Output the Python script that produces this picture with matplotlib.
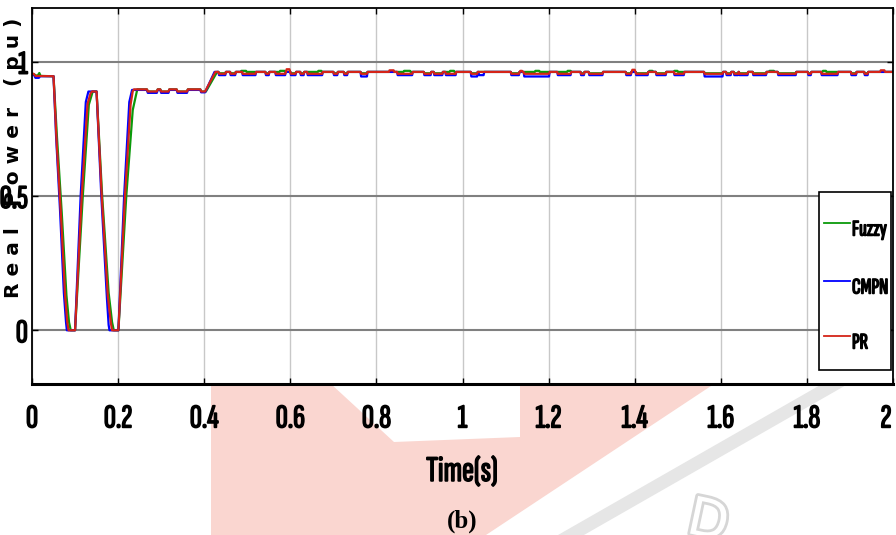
import numpy as np
import matplotlib
matplotlib.use("Agg")
import matplotlib.pyplot as plt
from matplotlib.patches import Polygon, Rectangle
from matplotlib.lines import Line2D
import matplotlib.patheffects as pe

# start-up transient, (time s, real power pu)
fuzzy_start = [(0, 0.956), (0.006, 0.952), (0.010, 0.948), (0.014, 0.950), (0.017, 0.958),
               (0.020, 0.947), (0.050, 0.946), (0.058, 0.72), (0.069, 0.44), (0.080, 0.13),
               (0.086, 0.03), (0.090, 0.0), (0.100, 0.0), (0.118, 0.5), (0.132, 0.84),
               (0.141, 0.889), (0.150, 0.889), (0.163, 0.5), (0.178, 0.14), (0.186, 0.03),
               (0.190, 0.0), (0.2007, 0.0), (0.219, 0.5), (0.234, 0.82), (0.2445, 0.897),
               (0.267, 0.897), (0.269, 0.889), (0.290, 0.889), (0.292, 0.897), (0.298, 0.897),
               (0.300, 0.889), (0.317, 0.889), (0.319, 0.897), (0.336, 0.897), (0.338, 0.889),
               (0.360, 0.889), (0.362, 0.897), (0.391, 0.897), (0.393, 0.889), (0.404, 0.889),
               (0.430, 0.962)]
cmpn_start = [(0, 0.953), (0.005, 0.950), (0.008, 0.940), (0.016, 0.940), (0.019, 0.946),
              (0.050, 0.946), (0.056, 0.72), (0.065, 0.45), (0.074, 0.14), (0.079, 0.03),
              (0.081, 0.0), (0.100, 0.0), (0.113, 0.5), (0.125, 0.85), (0.131, 0.889),
              (0.150, 0.889), (0.161, 0.5), (0.174, 0.12), (0.178, 0.02), (0.180, 0.0),
              (0.2007, 0.0), (0.214, 0.5), (0.226, 0.85), (0.2325, 0.895),
              (0.267, 0.895), (0.269, 0.884), (0.290, 0.884), (0.292, 0.895), (0.298, 0.895),
              (0.300, 0.884), (0.317, 0.884), (0.319, 0.895), (0.336, 0.895), (0.338, 0.884),
              (0.360, 0.884), (0.362, 0.895), (0.391, 0.895), (0.393, 0.886), (0.402, 0.886),
              (0.424, 0.962)]
pr_start = [(0, 0.955), (0.004, 0.955), (0.008, 0.947), (0.050, 0.946), (0.057, 0.707),
            (0.067, 0.436), (0.077, 0.127), (0.082, 0.03), (0.085, 0.0), (0.100, 0.0),
            (0.1155, 0.5), (0.129, 0.843), (0.136, 0.882), (0.139, 0.889), (0.150, 0.889),
            (0.162, 0.5), (0.176, 0.13), (0.183, 0.03), (0.186, 0.0), (0.2007, 0.0),
            (0.216, 0.5), (0.229, 0.84), (0.234, 0.89), (0.237, 0.897),
            (0.267, 0.897), (0.269, 0.889), (0.290, 0.889), (0.292, 0.897), (0.298, 0.897),
            (0.300, 0.889), (0.317, 0.889), (0.319, 0.897), (0.336, 0.897), (0.338, 0.889),
            (0.360, 0.889), (0.362, 0.897), (0.391, 0.897), (0.393, 0.889), (0.402, 0.889),
            (0.426, 0.962)]

# steady state: level and the short dips shared by all controllers
steady_level = 0.962
dips = [(0.433, 0.449), (0.460, 0.472), (0.488, 0.519), (0.542, 0.550), (0.565, 0.588),
        (0.600, 0.612), (0.623, 0.631), (0.639, 0.674), (0.700, 0.709), (0.724, 0.732),
        (0.763, 0.778), (0.848, 0.883), (0.910, 0.926), (0.933, 0.953), (0.960, 0.984),
        (1.019, 1.034), (1.112, 1.131), (1.142, 1.201), (1.220, 1.251), (1.274, 1.282),
        (1.293, 1.325), (1.379, 1.391), (1.402, 1.430), (1.449, 1.472), (1.491, 1.514),
        (1.561, 1.604), (1.612, 1.623), (1.630, 1.640), (1.642, 1.662), (1.674, 1.705),
        (1.732, 1.774), (1.802, 1.809), (1.833, 1.871), (1.902, 1.914), (1.933, 1.941)]
pr_dip, cmpn_dip, fuzzy_dip = 0.955, 0.950, 0.957
cmpn_deep = [0.763, 1.019, 1.142, 1.561]          # dips where CMPN falls further
cmpn_deep_level = 0.945
cmpn_extra = [(1.037, 1.049, 0.950)]
pr_peaks = [(0.590, 0.598, 0.972), (0.829, 0.840, 0.968), (1.133, 1.138, 0.966),
            (1.393, 1.400, 0.970), (1.970, 1.980, 0.968)]
fuzzy_bumps = [(0.485, 0.497), (0.575, 0.587), (0.664, 0.672), (0.863, 0.878),
               (0.970, 0.980), (1.168, 1.178), (1.243, 1.251), (1.433, 1.441),
               (1.491, 1.499), (1.712, 1.723), (1.836, 1.844)]
fuzzy_bump_level = 0.966

series_names = ['Fuzzy', 'CMPN', 'PR']
series_colors = ['#0a9a0a', '#0000ff', '#d42418']

xticks = [0, 0.2, 0.4, 0.6, 0.8, 1, 1.2, 1.4, 1.6, 1.8, 2]
xtick_labels = ['0', '0.2', '0.4', '0.6', '0.8', '1', '1.2', '1.4', '1.6', '1.8', '2']
yticks = [0, 0.5, 1]
ytick_labels = ['0', '0.5', '1']


def trace(start, events, end=2.0, edge=0.0015):
    t = [a for a, _ in start]
    p = [b for _, b in start]
    for t0, t1, lvl in sorted(events):
        if t0 < t[-1]:
            continue
        t += [t0, t0 + edge, t1, t1 + edge]
        p += [steady_level, lvl, lvl, steady_level]
    t.append(end)
    p.append(steady_level)
    return t, p


def overlaps(a, b):
    return a[0] < b[1] and b[0] < a[1]


pr_events = [(a, b, pr_dip) for a, b in dips] + pr_peaks
cmpn_events = [(a, b, cmpn_deep_level if a in cmpn_deep else cmpn_dip) for a, b in dips] + cmpn_extra
fuzzy_events = [(a, b, fuzzy_dip) for a, b in dips
                if not any(overlaps((a, b), bump) for bump in fuzzy_bumps)]
fuzzy_events += [(a, b, fuzzy_bump_level) for a, b in fuzzy_bumps]

W, H = 896, 535
fig = plt.figure(figsize=(W / 100, H / 100), dpi=100)
fig.patch.set_facecolor('white')


def px(x, y):
    return (x / W, 1 - y / H)


# tall narrow lettering, thickened with a thin stroke
narrow = ['Sofia Sans Extra Condensed', 'Archivo Narrow', 'Liberation Sans']
heavy = [pe.withStroke(linewidth=1.1, foreground='black')]

# faint watermark behind the bottom of the figure
pink = Polygon([px(211, 384), px(331, 384), px(394, 442), px(520, 437), px(520, 384),
                px(714, 384), px(486, 535), px(211, 535)],
               closed=True, transform=fig.transFigure, facecolor='#fad6d0',
               edgecolor='none', zorder=-2)
band = Polygon([px(822, 384), px(848, 384), px(584, 535), px(558, 535)],
               closed=True, transform=fig.transFigure, facecolor='#e6e6e6',
               edgecolor='none', zorder=-2)
fig.add_artist(pink)
fig.add_artist(band)
fig.text(708 / W, 1 - 522 / H, 'D', fontsize=38, color='white', rotation=-12,
         ha='center', va='center', family='DejaVu Sans', zorder=-1,
         path_effects=[pe.withStroke(linewidth=4, foreground='#d6d6d6')])

ax = fig.add_axes([32 / W, 1 - 384 / H, 861 / W, 376 / H])
ax.set_facecolor('white')

for data, events, color in [(fuzzy_start, fuzzy_events, series_colors[0]),
                            (cmpn_start, cmpn_events, series_colors[1]),
                            (pr_start, pr_events, series_colors[2])]:
    t, p = trace(data, events)
    ax.plot(t, p, color=color, lw=1.6)

ax.set_xlim(0, 2)
ax.set_ylim(-0.2, 1.2)
ax.set_xticks(xticks)
# the last x label sits against the right border, so it is placed by hand
ax.set_xticklabels(xtick_labels[:-1] + [''])
ax.set_yticks(yticks)
ax.set_yticklabels(ytick_labels)
for lab in ax.get_xticklabels() + ax.get_yticklabels():
    lab.set_family(narrow)
    lab.set_fontsize(24)
    lab.set_path_effects(heavy)
ax.annotate(xtick_labels[-1], xy=(xticks[-1], 0), xycoords=('data', 'axes fraction'),
            xytext=(-5, -14), textcoords='offset points', ha='center', va='top',
            fontsize=24, family=narrow, path_effects=heavy, annotation_clip=False)
ax.tick_params(direction='in', top=True, right=True, length=4, width=1, color='black')
ax.tick_params(axis='x', pad=14)
ax.tick_params(axis='y', pad=3)
ax.xaxis.grid(True, color='#c8c8c8', lw=1)
ax.yaxis.grid(True, color='#808080', lw=1.5)
ax.set_axisbelow(True)
for side in ['left', 'right', 'top']:
    ax.spines[side].set_linewidth(1.3)
ax.spines['bottom'].set_linewidth(2.2)

# legend box at the right edge
fig.add_artist(Rectangle(px(819, 370), 72 / W, 178 / H, transform=fig.transFigure,
                         facecolor='white', edgecolor='black', lw=1.2, zorder=5))
for name, color, yl in zip(series_names, series_colors, [223, 281, 336]):
    fig.add_artist(Line2D([824 / W, 850 / W], [1 - yl / H] * 2, transform=fig.transFigure,
                          color=color, lw=1.3, zorder=6))
    fig.text(852 / W, 1 - (yl + 7) / H, name, ha='left', va='center', fontsize=16,
             family=narrow, path_effects=heavy, zorder=6)

fig.text(14 / W, 1 - 158 / H, 'R e a l   P o w e r   ( p u )', rotation=90,
         ha='center', va='center', fontsize=14.5, fontweight='bold', family='DejaVu Sans')
fig.text(462 / W, 1 - 472 / H, 'Time(s)', ha='center', va='center',
         fontsize=26, family=narrow, path_effects=heavy)
fig.text(462 / W, 1 - 521 / H, '(b)', ha='center', va='center',
         fontsize=18, fontweight='bold', family='Liberation Serif')

fig.savefig('out.png', dpi=100)
